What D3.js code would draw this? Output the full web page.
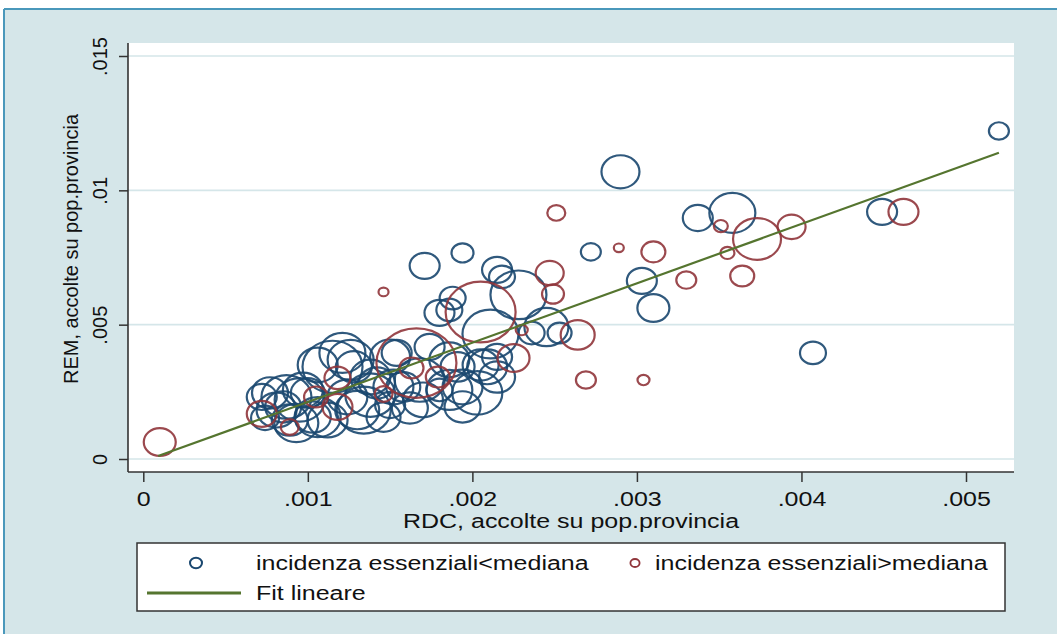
<!DOCTYPE html>
<html><head><meta charset="utf-8">
<script src="https://cdn.jsdelivr.net/npm/d3@7"></script>
<style>body{margin:0;background:#fff;} svg text{font-family:"Liberation Sans",Arial,sans-serif;fill:#111;}</style>
</head><body><svg id="c" width="1057" height="634"></svg>
<script>
// ---- data ----
const xTicks = [0, .001, .002, .003, .004, .005];
const xTickLabels = ["0", ".001", ".002", ".003", ".004", ".005"];
const yTicks = [0, .005, .01, .015];
const yTickLabels = ["0", ".005", ".01", ".015"];
const xTitle = "RDC, accolte su pop.provincia";
const yTitle = "REM, accolte su pop.provincia";
const legendLabels = ["incidenza essenziali<mediana", "incidenza essenziali>mediana", "Fit lineare"];

// incidenza essenziali < mediana (blue)
const blueX = [.00520,.00290,.00337,.00358,.00449,.00272,.00303,.00310,.00407,.00171,
  .00194,.00215,.00218,.00188,.00186,.00180,.00228,.00211,.00245,.00236,
  .00253,.00203,.00209,.00205,.00215,.00194,.00215,.00180,.00077,.00081,
  .00087,.00093,.00097,.00106,.00115,.00126,.00124,.00134,.00138,.00150,
  .00152,.00146,.00170,.00186,.00191,.00194,.00072,.00085,.00100,.00106,
  .00121,.00154,.00158,.00150,.00174,.00103,.00112,.00130,.00142,.00128,.00089,
  .00095,.00168,.00186,.00138,.00074,.00162];
const blueY = [.01221,.01069,.00897,.00916,.00920,.00771,.00663,.00562,.00395,.00719,
  .00767,.00704,.00678,.00599,.00555,.00544,.00611,.00465,.00491,.00469,
  .00469,.00246,.00343,.00350,.00380,.00268,.00305,.00257,.00246,.00182,
  .00231,.00134,.00257,.00156,.00343,.00369,.00231,.00182,.00305,.00380,
  .00268,.00156,.00220,.00257,.00343,.00194,.00231,.00194,.00246,.00350,
  .00395,.00395,.00268,.00201,.00417,.00156,.00145,.00182,.00283,.00343,.00145,
  .00220,.00294,.00369,.00238,.00153,.00190];
const blueW = [100,361,225,529,225,100,225,256,169,225,
  121,225,169,169,169,225,784,784,484,169,
  144,625,400,324,225,400,324,169,324,400,
  625,484,400,529,900,529,400,729,400,400,
  400,289,400,529,289,324,225,324,289,400,
  529,225,289,225,225,324,400,484,324,324,324,
  625,625,400,625,196,324];

// incidenza essenziali > mediana (red)
const redX = [.00251,.00351,.00373,.00394,.00462,.00289,.00310,.00355,.00247,.00249,
  .00330,.00364,.00264,.00269,.00304,.00146,.00205,.00230,.00166,.00163,
  .00179,.00225,.00146,.00010,.00072,.00089,.00105,.00118,.00118];
const redY = [.00916,.00867,.00819,.00864,.00920,.00786,.00771,.00767,.00692,.00614,
  .00666,.00681,.00462,.00294,.00294,.00622,.00547,.00480,.00357,.00339,
  .00305,.00376,.00242,.00063,.00168,.00119,.00231,.00302,.00194];
const redW = [81,49,576,196,225,25,144,49,196,121,
  100,144,289,100,36,25,1225,36,1600,144,
  144,256,81,256,225,81,144,169,225];

// Fit lineare (end points)
const fitX = [0.00009, 0.00520];
const fitY = [0.00011, 0.01140];

// ---- layout ----
const W = 1057, H = 634;
const SX = 1.25;   // horizontal stretch of the picture (text)
const MX = 1.15;   // horizontal stretch of markers
const P = {l: 128, r: 1014, t: 43, b: 472};
const NAVY = "#1a476f", MAROON = "#90353b", GREEN = "#55752f", BG = "#d5e6e9";

const x = d3.scaleLinear().domain([0, .005]).range([143.3, 966]);
const y = d3.scaleLinear().domain([0, .015]).range([459, 56]);
const rS = d3.scaleSqrt().domain([0, 1600]).range([0, 40]);

const svg = d3.select("#c");
svg.append("rect").attr("x", 4).attr("y", 9).attr("width", W).attr("height", H).attr("fill", BG);
svg.append("line").attr("x1", 4).attr("x2", W).attr("y1", 9).attr("y2", 9).attr("stroke", "#4a98bb").attr("stroke-width", 2);
svg.append("line").attr("x1", 4).attr("x2", 4).attr("y1", 9).attr("y2", H).attr("stroke", "#4a98bb").attr("stroke-width", 2);

// plot region
svg.append("rect").attr("x", P.l).attr("y", P.t).attr("width", P.r - P.l).attr("height", P.b - P.t).attr("fill", "#fff");

// gridlines
svg.append("g").selectAll("line").data(yTicks).join("line")
  .attr("x1", P.l).attr("x2", P.r).attr("y1", d => y(d)).attr("y2", d => y(d))
  .attr("stroke", BG).attr("stroke-width", 1.6);

// markers
const plot = svg.append("g");
function drawSeries(xs, ys, ws, color) {
  const data = xs.map((v, i) => ({x: v, y: ys[i], w: ws[i]}));
  plot.append("g").selectAll("ellipse").data(data).join("ellipse")
    .attr("cx", d => x(d.x)).attr("cy", d => y(d.y))
    .attr("rx", d => rS(d.w)).attr("ry", d => rS(d.w) / MX)
    .attr("fill", "none").attr("stroke", color).attr("stroke-width", 2.2).attr("stroke-opacity", 0.9);
}
drawSeries(blueX, blueY, blueW, NAVY);
drawSeries(redX, redY, redW, MAROON);

// fit line
const fitData = fitX.map((v, i) => [v, fitY[i]]);
svg.append("path").datum(fitData)
  .attr("d", d3.line().x(d => x(d[0])).y(d => y(d[1])))
  .attr("stroke", GREEN).attr("stroke-width", 2.2).attr("fill", "none");

// axes
const yAx = svg.append("g").attr("transform", `translate(${P.l},0)`)
  .call(d3.axisLeft(y).tickValues(yTicks).tickSize(9).tickSizeOuter(0).tickFormat((d, i) => yTickLabels[i]));
yAx.select(".domain").remove();
yAx.selectAll(".tick line").attr("stroke", "#333").attr("stroke-width", 1.5);
yAx.selectAll(".tick text").attr("x", null).attr("dy", null).attr("y", null)
  .attr("text-anchor", "middle").attr("font-size", 20)
  .attr("transform", "translate(-21,0) rotate(-90)");

const xAx = svg.append("g").attr("transform", `translate(0,${P.b})`)
  .call(d3.axisBottom(x).tickValues(xTicks).tickSize(10).tickSizeOuter(0).tickFormat((d, i) => xTickLabels[i]));
xAx.select(".domain").remove();
xAx.selectAll(".tick line").attr("stroke", "#333").attr("stroke-width", 1.5);
xAx.selectAll(".tick text").attr("y", null).attr("dy", null)
  .attr("text-anchor", "middle").attr("font-size", 20)
  .attr("transform", `translate(0,34) scale(${SX},1)`);

svg.append("line").attr("x1", P.l).attr("x2", P.l).attr("y1", P.t).attr("y2", P.b).attr("stroke", "#333").attr("stroke-width", 1.6);
svg.append("line").attr("x1", P.l).attr("x2", P.r).attr("y1", P.b).attr("y2", P.b).attr("stroke", "#333").attr("stroke-width", 1.6);

// axis titles
svg.append("text").text(xTitle).attr("text-anchor", "middle").attr("font-size", 20)
  .attr("transform", `translate(${(P.l + P.r) / 2},528) scale(${SX},1)`);
svg.append("text").text(yTitle).attr("text-anchor", "middle").attr("font-size", 20)
  .attr("transform", `translate(78,249) rotate(-90)`);

// legend
const lg = svg.append("g");
lg.append("rect").attr("x", 137).attr("y", 543).attr("width", 868).attr("height", 68)
  .attr("fill", "#fff").attr("stroke", "#333").attr("stroke-width", 1.5);
lg.append("ellipse").attr("cx", 196).attr("cy", 563).attr("rx", 6).attr("ry", 5.2)
  .attr("fill", "none").attr("stroke", NAVY).attr("stroke-width", 2);
lg.append("ellipse").attr("cx", 635).attr("cy", 563).attr("rx", 4.6).attr("ry", 4)
  .attr("fill", "none").attr("stroke", MAROON).attr("stroke-width", 1.8);
lg.append("line").attr("x1", 147).attr("x2", 241).attr("y1", 593).attr("y2", 593)
  .attr("stroke", GREEN).attr("stroke-width", 3);
[[256, 570], [655, 570], [256, 600]].forEach((p, i) => {
  lg.append("text").text(legendLabels[i]).attr("font-size", 20)
    .attr("transform", `translate(${p[0]},${p[1]}) scale(${SX},1)`);
});
</script></body></html>
